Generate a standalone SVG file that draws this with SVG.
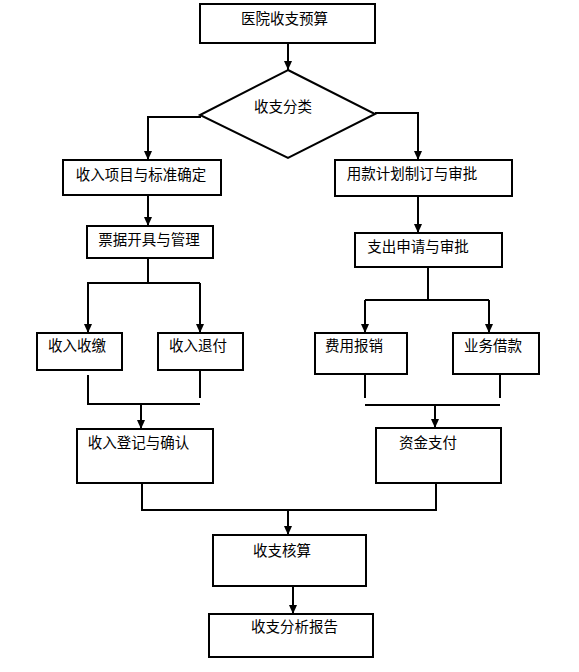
<svg xmlns="http://www.w3.org/2000/svg" width="579" height="672" viewBox="0 0 579 672">
<style>
.box{fill:#fff;stroke:#000;stroke-width:2}
.ln{fill:none;stroke:#000;stroke-width:2}
.ar{fill:none;stroke:#000;stroke-width:2;marker-end:url(#arr)}
text{font-family:"Noto Sans CJK SC","Noto Sans",sans-serif;font-size:14.5px;fill:#000;text-anchor:middle}
</style>
<defs>
<marker id="arr" markerUnits="userSpaceOnUse" markerWidth="9" markerHeight="8" viewBox="0 0 9 8" refX="9" refY="4" orient="auto">
<path d="M0,0 L9,4 L0,8 z" fill="#000"/>
</marker>
</defs>
<rect width="579" height="672" fill="#fff"/>
<g id="connectors">
<path class="ar" d="M288,43 V70"/>
<path class="ar" d="M201,117 H148 V160"/>
<path class="ar" d="M375,113 H418 V160"/>
<path class="ar" d="M148,195 V226"/>
<path class="ar" d="M418,196 V233"/>
<path class="ln" d="M148,258 V283 M87,283 H200"/>
<path class="ar" d="M88,283 V333"/>
<path class="ar" d="M200,283 V333"/>
<path class="ln" d="M428,267 V300 M365,300 H489"/>
<path class="ar" d="M365,300 V333"/>
<path class="ar" d="M489,300 V333"/>
<path class="ln" d="M88,375 V404 H200 M200,370 V398"/>
<path class="ar" d="M141,404 V429"/>
<path class="ln" d="M365,374 V398 M500,374 V398 M365,405 H500"/>
<path class="ar" d="M435,405 V428"/>
<path class="ln" d="M142,483 V510 H436 V483"/>
<path class="ar" d="M288,510 V535"/>
<path class="ar" d="M293,586 V614"/>
</g>
<g id="n1"><rect class="box" x="200" y="4" width="175" height="39"/><text x="284.5" y="24">医院收支预算</text></g>
<g id="n2"><polygon class="box" points="288,70 375,114 288,158 200,115"/><text x="283" y="112">收支分类</text></g>
<g id="n3"><rect class="box" x="63" y="160" width="158" height="35"/><text x="141" y="180">收入项目与标准确定</text></g>
<g id="n4"><rect class="box" x="335" y="160" width="177" height="36"/><text x="412" y="179">用款计划制订与审批</text></g>
<g id="n5"><rect class="box" x="87" y="226" width="126" height="32"/><text x="149" y="245">票据开具与管理</text></g>
<g id="n6"><rect class="box" x="355" y="233" width="147" height="34"/><text x="418" y="252">支出申请与审批</text></g>
<g id="n7"><rect class="box" x="37" y="333" width="85" height="37"/><text x="77" y="351">收入收缴</text></g>
<g id="n8"><rect class="box" x="158" y="333" width="85" height="37"/><text x="198" y="351">收入退付</text></g>
<g id="n9"><rect class="box" x="315" y="333" width="92" height="41"/><text x="354" y="351">费用报销</text></g>
<g id="n10"><rect class="box" x="453" y="333" width="86" height="41"/><text x="493" y="351">业务借款</text></g>
<g id="n11"><rect class="box" x="77" y="429" width="136" height="54"/><text x="138.5" y="448">收入登记与确认</text></g>
<g id="n12"><rect class="box" x="376" y="428" width="125" height="55"/><text x="428" y="448">资金支付</text></g>
<g id="n13"><rect class="box" x="213" y="535" width="153" height="51"/><text x="282" y="556">收支核算</text></g>
<g id="n14"><rect class="box" x="209" y="614" width="164" height="43"/><text x="294.5" y="632">收支分析报告</text></g>
</svg>
